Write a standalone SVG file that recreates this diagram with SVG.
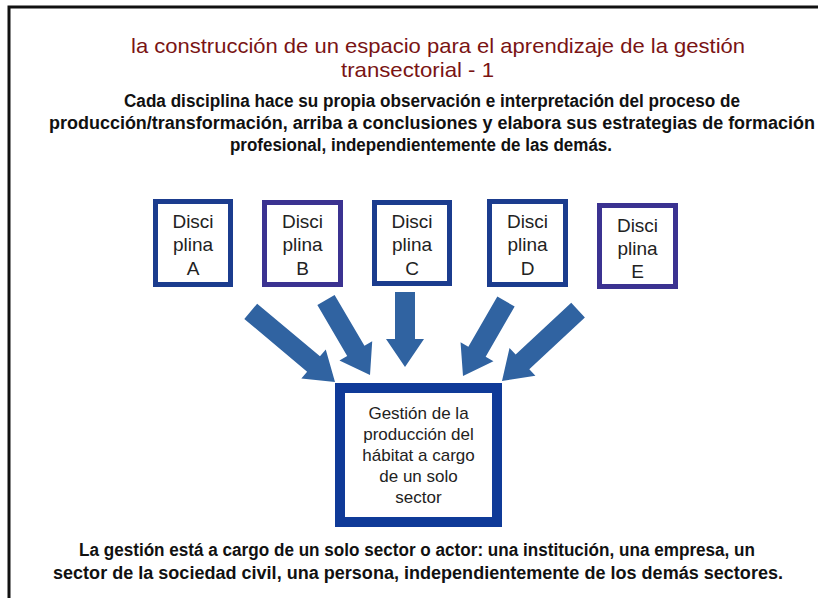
<svg xmlns="http://www.w3.org/2000/svg" width="818" height="601" viewBox="0 0 818 601">
<style>
.title{font-family:"Liberation Sans",Arial,sans-serif;font-size:21px;fill:#7a1414;text-anchor:middle}
.sub{font-family:"Liberation Sans",Arial,sans-serif;font-size:18px;font-weight:bold;fill:#111;text-anchor:middle}
.lbl{font-family:"Liberation Sans",Arial,sans-serif;font-size:19px;fill:#222;text-anchor:middle}
.ctr{font-family:"Liberation Sans",Arial,sans-serif;font-size:17px;fill:#222;text-anchor:middle}
.boxa{fill:#fff;stroke:#1b3c8e;stroke-width:5}
.boxb{fill:#fff;stroke:#3b3291;stroke-width:5}
.arrow{fill:#3063a1}
</style>
<rect width="818" height="601" fill="#fff"/>
<path d="M9,598 V7 H818" fill="none" stroke="#111" stroke-width="3"/>
<g id="title">
<text class="title" x="438" y="53" textLength="614" lengthAdjust="spacingAndGlyphs">la construcción de un espacio para el aprendizaje de la gestión</text>
<text class="title" x="417.5" y="77" textLength="153" lengthAdjust="spacingAndGlyphs">transectorial - 1</text>
</g>
<g id="subtitle">
<text class="sub" x="432" y="107" textLength="616" lengthAdjust="spacingAndGlyphs">Cada disciplina hace su propia observación e interpretación del proceso de</text>
<text class="sub" x="432" y="129" textLength="766" lengthAdjust="spacingAndGlyphs">producción/transformación, arriba a conclusiones y elabora sus estrategias de formación</text>
<text class="sub" x="421" y="151" textLength="382" lengthAdjust="spacingAndGlyphs">profesional, independientemente de las demás.</text>
</g>
<g id="connectors">
<path class="arrow" transform="translate(335,382) rotate(40)" d="M-110,-10 L-28,-10 L-28,-19 L0,0 L-28,19 L-28,10 L-110,10 Z"/>
<path class="arrow" transform="translate(370,375) rotate(59.6)" d="M-87,-10 L-28,-10 L-28,-19 L0,0 L-28,19 L-28,10 L-87,10 Z"/>
<path class="arrow" transform="translate(405,367) rotate(90)" d="M-75,-10 L-28,-10 L-28,-19 L0,0 L-28,19 L-28,10 L-75,10 Z"/>
<path class="arrow" transform="translate(463,376) rotate(120)" d="M-86,-10 L-28,-10 L-28,-19 L0,0 L-28,19 L-28,10 L-86,10 Z"/>
<path class="arrow" transform="translate(502,381) rotate(137)" d="M-104,-10 L-28,-10 L-28,-19 L0,0 L-28,19 L-28,10 L-104,10 Z"/>
</g>
<g id="discA">
<rect class="boxa" x="155.5" y="201.5" width="75" height="83"/>
<text class="lbl" x="193" y="228">Disci</text><text class="lbl" x="193" y="251">plina</text><text class="lbl" x="193" y="275">A</text>
</g>
<g id="discB">
<rect class="boxb" x="264.5" y="202.5" width="76" height="82"/>
<text class="lbl" x="302.5" y="228">Disci</text><text class="lbl" x="302.5" y="251">plina</text><text class="lbl" x="302.5" y="275">B</text>
</g>
<g id="discC">
<rect class="boxa" x="374.5" y="202.5" width="75" height="81"/>
<text class="lbl" x="412" y="228">Disci</text><text class="lbl" x="412" y="251">plina</text><text class="lbl" x="412" y="275">C</text>
</g>
<g id="discD">
<rect class="boxa" x="489.5" y="201.5" width="76" height="83"/>
<text class="lbl" x="527.5" y="228">Disci</text><text class="lbl" x="527.5" y="251">plina</text><text class="lbl" x="527.5" y="275">D</text>
</g>
<g id="discE">
<rect class="boxb" x="599.5" y="205.5" width="76" height="81"/>
<text class="lbl" x="637.5" y="232">Disci</text><text class="lbl" x="637.5" y="255">plina</text><text class="lbl" x="637.5" y="278">E</text>
</g>
<g id="gestion">
<rect x="340" y="388" width="157" height="134" fill="#fff" stroke="#0f3a98" stroke-width="10"/>
<text class="ctr" x="418.5" y="419">Gestión de la</text>
<text class="ctr" x="418.5" y="440">producción del</text>
<text class="ctr" x="418.5" y="461">hábitat a cargo</text>
<text class="ctr" x="418.5" y="482">de un solo</text>
<text class="ctr" x="418.5" y="503">sector</text>
</g>
<g id="footer">
<text class="sub" x="417" y="556" textLength="676" lengthAdjust="spacingAndGlyphs">La gestión está a cargo de un solo sector o actor: una institución, una empresa, un</text>
<text class="sub" x="418" y="579" textLength="730" lengthAdjust="spacingAndGlyphs">sector de la sociedad civil, una persona, independientemente de los demás sectores.</text>
</g>
</svg>
